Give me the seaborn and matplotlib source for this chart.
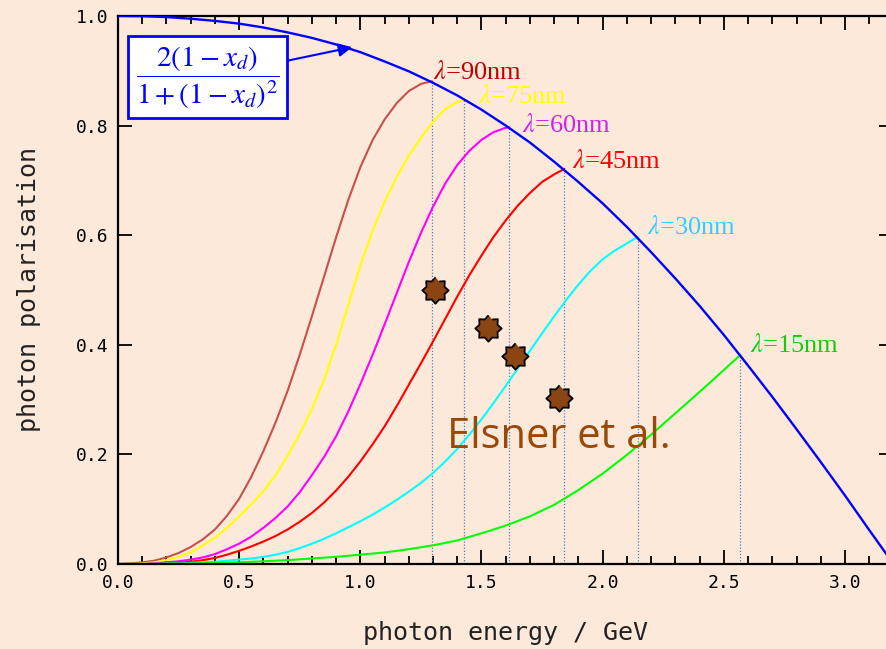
import numpy as np
import pandas as pd
import seaborn as sns
import matplotlib.pyplot as plt
from matplotlib.ticker import MultipleLocator

# sample positions along the energy axis (GeV)
grid01 = [0.0, 0.1, 0.2, 0.3, 0.4, 0.5, 0.6, 0.7, 0.8, 0.9, 1.0, 1.1, 1.2, 1.3, 1.4, 1.5, 1.6,
          1.7, 1.8, 1.9, 2.0, 2.1, 2.2, 2.3, 2.4, 2.5, 2.6, 2.7, 2.8, 2.9, 3.0, 3.1, 3.2]
grid05 = [0.0, 0.05, 0.1, 0.15, 0.2, 0.25, 0.3, 0.35, 0.4, 0.45, 0.5, 0.55, 0.6, 0.65, 0.7,
          0.75, 0.8, 0.85, 0.9, 0.95, 1.0, 1.05, 1.1, 1.15, 1.2, 1.25, 1.3, 1.35, 1.4, 1.45,
          1.5, 1.55, 1.6, 1.65, 1.7, 1.75, 1.8, 1.85, 1.9, 1.95, 2.0, 2.05, 2.1]

# envelope 2(1-x_d)/(1+(1-x_d)^2)
env_y = [1.000, 0.9995, 0.998, 0.995, 0.991, 0.986, 0.979, 0.970, 0.960, 0.948, 0.934, 0.917,
         0.899, 0.878, 0.855, 0.829, 0.800, 0.769, 0.734, 0.697, 0.658, 0.615, 0.569, 0.521,
         0.471, 0.418, 0.362, 0.305, 0.246, 0.186, 0.125, 0.062, 0.0]

# peak energy of each wavelength (where it meets the envelope)
peak_x = [1.296, 1.428, 1.615, 1.842, 2.145, 2.567]

y_90 = [0.0, 0.001, 0.003, 0.006, 0.012, 0.020, 0.031, 0.045, 0.063, 0.088, 0.119, 0.159,
        0.206, 0.258, 0.316, 0.382, 0.452, 0.524, 0.596, 0.664, 0.724, 0.773, 0.811, 0.841,
        0.863, 0.876, 0.881]
y_75 = [0.0, 0.0, 0.001, 0.003, 0.007, 0.013, 0.021, 0.034, 0.048, 0.066, 0.087, 0.109,
        0.133, 0.162, 0.197, 0.238, 0.283, 0.336, 0.400, 0.472, 0.545, 0.607, 0.661, 0.706,
        0.745, 0.778, 0.807, 0.830, 0.843, 0.847]
y_60 = [0.0, 0.0, 0.0, 0.001, 0.003, 0.005, 0.008, 0.012, 0.018, 0.027, 0.037, 0.050, 0.066,
        0.084, 0.105, 0.131, 0.162, 0.195, 0.233, 0.278, 0.328, 0.381, 0.437, 0.494, 0.551,
        0.604, 0.652, 0.694, 0.728, 0.754, 0.774, 0.788, 0.796, 0.797]
y_45 = [0.0, 0.0, 0.0, 0.0, 0.001, 0.002, 0.004, 0.007, 0.011, 0.017, 0.024, 0.032, 0.041,
        0.051, 0.063, 0.077, 0.093, 0.112, 0.134, 0.159, 0.187, 0.218, 0.251, 0.288, 0.327,
        0.366, 0.406, 0.447, 0.488, 0.527, 0.563, 0.597, 0.627, 0.654, 0.677, 0.697, 0.711,
        0.721]
y_30 = [0.0, 0.0, 0.0, 0.0, 0.001, 0.001, 0.002, 0.003, 0.004, 0.006, 0.008, 0.010, 0.013,
        0.017, 0.022, 0.029, 0.037, 0.046, 0.056, 0.067, 0.078, 0.090, 0.103, 0.117, 0.132,
        0.148, 0.166, 0.187, 0.210, 0.236, 0.264, 0.294, 0.325, 0.357, 0.389, 0.421, 0.452,
        0.482, 0.510, 0.535, 0.556, 0.572, 0.585, 0.597]
y_15 = [0.0, 0.0, 0.0, 0.001, 0.002, 0.003, 0.005, 0.007, 0.010, 0.013, 0.017, 0.021, 0.027,
        0.034, 0.043, 0.056, 0.070, 0.087, 0.108, 0.135, 0.165, 0.199, 0.236, 0.275, 0.314,
        0.354, 0.381]

labels = ["λ=90nm", "λ=75nm", "λ=60nm", "λ=45nm", "λ=30nm", "λ=15nm"]

# measured points (Elsner et al.)
meas_x = [1.308, 1.527, 1.638, 1.820]
meas_y = [0.500, 0.431, 0.380, 0.303]

series = [y_90, y_75, y_60, y_45, y_30, y_15]
grids = [grid05, grid05, grid05, grid05, grid05, grid01]
curves = []
for ys, g, px in zip(series, grids, peak_x):
    curves.append((g[:len(ys) - 1] + [px], ys))

line_cols = ["#c8504c", "#ffff00", "#ff00ff", "#ff0000", "#00ffff", "#00ff00"]
text_cols = ["#c00000", "#ffff00", "#cc22ee", "#ff0000", "#33ccff", "#11cc11"]
label_pos = [(1.300, 0.885), (1.486, 0.841), (1.667, 0.788), (1.874, 0.723),
             (2.183, 0.602), (2.608, 0.387)]

bg = "#fde9d9"
sns.set_theme(style="ticks")
plt.rcParams["mathtext.fontset"] = "stix"
plt.rcParams["font.family"] = ["DejaVu Sans Mono", "DejaVu Sans"]

fig = plt.figure(figsize=(8.86, 6.49), dpi=100, facecolor=bg)
ax = fig.add_axes([0.1332, 0.131, 0.8752, 0.8444])
ax.set_facecolor(bg)

# dotted drop lines from each peak
for xs, ys in curves:
    ax.plot([xs[-1], xs[-1]], [0, ys[-1]], color="#4f81bd", lw=0.9, ls=(0, (1, 1.5)), zorder=1)

for (xs, ys), c in zip(curves, line_cols):
    sns.lineplot(x=xs, y=ys, ax=ax, color=c, lw=1.5, zorder=2)

sns.lineplot(x=grid01, y=env_y, ax=ax, color="#0000ff", lw=1.7, zorder=3)

for lab, (lx, ly), c in zip(labels, label_pos, text_cols):
    ax.text(lx, ly, lab.replace("λ", r"$\lambda$"), color=c, fontsize=19,
            family="Liberation Serif", ha="left", va="baseline")

# 8-pointed star markers
ang = np.linspace(0, 2 * np.pi, 17)[:-1] + np.pi / 2
rad = np.where(np.arange(16) % 2 == 0, 1.0, 0.74)
star = list(zip(rad * np.cos(ang), rad * np.sin(ang)))
meas = pd.DataFrame({"E": meas_x, "P": meas_y})
sns.scatterplot(data=meas, x="E", y="P", ax=ax, marker=star, s=360,
                color="#8b4513", edgecolor="black", linewidth=1.3, zorder=5)

ax.text(1.358, 0.212, "Elsner et al.", color="#984807", fontsize=30,
        family="Open Sans", ha="left", va="baseline")

formula = r"$\dfrac{2\left(1-x_d\right)}{1+\left(1-x_d\right)^2}$"
ax.annotate(formula, xy=(0.966, 0.943), xytext=(0.369, 0.888), color="#0000ff",
            fontsize=21, ha="center", va="center",
            bbox=dict(boxstyle="square,pad=0.26", fc="white", ec="#0000ff", lw=2),
            arrowprops=dict(arrowstyle="-|>", color="#0000ff", lw=1.5, mutation_scale=20,
                            shrinkA=0, shrinkB=0),
            zorder=6)

ax.set_xlim(0, 3.2)
ax.set_ylim(0, 1.0)
ax.xaxis.set_minor_locator(MultipleLocator(0.1))
ax.set_xticks(np.arange(0, 3.01, 0.5))
ax.set_xticklabels([f"{v:.1f}" for v in np.arange(0, 3.01, 0.5)])
ax.set_yticks(np.arange(0, 1.01, 0.2))
ax.set_yticklabels([f"{v:.1f}" for v in np.arange(0, 1.01, 0.2)])
ax.tick_params(which="both", direction="in", top=True, right=True, colors="black",
               labelsize=13, width=1.3)
ax.tick_params(which="major", length=10, pad=7)
ax.tick_params(which="minor", length=6)
for sp in ax.spines.values():
    sp.set_linewidth(1.6)
    sp.set_color("black")

ax.set_xlabel("photon energy / GeV", fontsize=18, labelpad=21, color="#222222")
ax.set_ylabel("photon polarisation", fontsize=18, labelpad=25, color="#222222")

fig.savefig("out.png", dpi=100, facecolor=bg)
